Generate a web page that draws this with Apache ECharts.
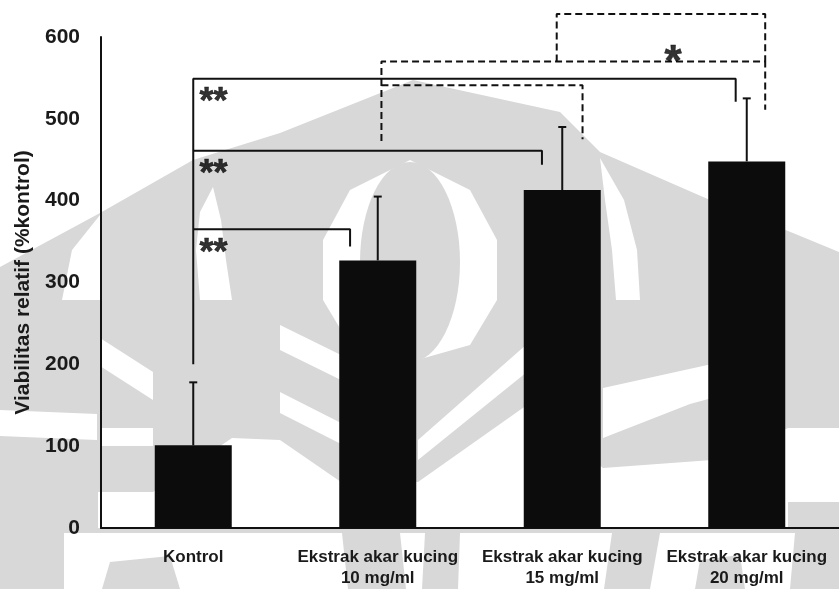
<!DOCTYPE html>
<html>
<head>
<meta charset="utf-8">
<script src="https://cdn.jsdelivr.net/npm/echarts@6/dist/echarts.min.js"></script>
<style>
html,body{margin:0;padding:0;background:#fff;}
#chart{width:839px;height:589px;}
</style>
</head>
<body>
<div id="chart"></div>
<script>
// ---- data ----
var categories = ['Kontrol', 'Ekstrak akar kucing\n10 mg/ml', 'Ekstrak akar kucing\n15 mg/ml', 'Ekstrak akar kucing\n20 mg/ml'];
var means = [101, 327, 413, 448];
var errorTops = [178, 405, 490, 525];
var yTicks = [0, 100, 200, 300, 400, 500, 600];

// significance brackets: points in [category position, value]
var bracketSolidTop = [[0, 200], [0, 549], [2.94, 549], [2.94, 521]];
var bracketSolidMid = [[0, 461], [1.89, 461], [1.89, 444]];
var bracketSolidLow = [[0, 365], [0.85, 365], [0.85, 344]];
var bracketDashB = [[1.02, 473], [1.02, 570], [3.10, 570], [3.10, 511]];
var bracketDashA = [[1.02, 541], [2.11, 541], [2.11, 475]];
var bracketDashC = [[1.97, 570], [1.97, 628], [3.10, 628], [3.10, 570]];
var sigDouble = [
  {name: '**', value: [0.11, 529]},
  {name: '**', value: [0.11, 441]},
  {name: '**', value: [0.11, 344]}
];
var sigSingle = [
  {name: '*', value: [2.60, 578]}
];

var FONT = 'Liberation Sans, Arial, sans-serif';
var chart = echarts.init(document.getElementById('chart'), null, {renderer: 'canvas'});

function bracket(data, dashed) {
  return {
    type: 'line', xAxisIndex: 1, yAxisIndex: 0, data: data,
    symbol: 'none', clip: false, silent: true, z: 5,
    lineStyle: {color: '#111', width: 2, type: dashed ? [7, 4] : 'solid'}
  };
}
function sigLabels(data, size, dy) {
  return {
    type: 'scatter', xAxisIndex: 1, yAxisIndex: 0, data: data,
    symbolSize: 1, itemStyle: {color: 'rgba(0,0,0,0)'}, silent: true, clip: false, z: 6,
    label: {show: true, position: 'inside', formatter: '{b}', offset: [0, dy], color: '#000',
      textBorderColor: '#000', textBorderWidth: 0.6,
      fontSize: size, fontWeight: 'bold', fontFamily: FONT}
  };
}

// ---- faint background watermark (decorative, not data) ----
var WM_GREY = '#d8d8d8';
function wmPoly(pts, fill) {
  return {type: 'polygon', silent: true, shape: {points: pts}, style: {fill: fill}};
}
var watermark = [
  // dome silhouette
  wmPoly([[0, 267], [100, 213], [193, 160], [280, 133], [413, 80], [560, 112], [600, 152], [710, 200], [793, 233], [839, 252], [839, 589], [0, 589]], WM_GREY),
  // white petals / almond
  wmPoly([[62, 300], [72, 250], [100, 215], [100, 300]], '#fff'),
  wmPoly([[213, 187], [221, 220], [226, 260], [232, 300], [200, 300], [196, 250], [200, 212]], '#fff'),
  wmPoly([[600, 158], [624, 200], [637, 250], [640, 300], [616, 300], [612, 250], [605, 200]], '#fff'),
  wmPoly([[410, 160], [470, 190], [497, 240], [497, 300], [470, 345], [410, 362], [350, 345], [323, 300], [323, 240], [350, 190]], '#fff'),
  {type: 'circle', silent: true, x: 410, y: 262, scaleY: 2, shape: {cx: 0, cy: 0, r: 50}, style: {fill: WM_GREY}},
  // white feather stripes
  wmPoly([[0, 410], [97, 414], [97, 440], [0, 436]], '#fff'),
  wmPoly([[100, 338], [153, 372], [153, 400], [100, 366]], '#fff'),
  wmPoly([[100, 428], [153, 428], [153, 446], [100, 446]], '#fff'),
  wmPoly([[280, 325], [341, 355], [341, 380], [280, 350]], '#fff'),
  wmPoly([[280, 392], [341, 423], [341, 444], [280, 413]], '#fff'),
  wmPoly([[418, 440], [527, 344], [527, 372], [418, 460]], '#fff'),
  wmPoly([[603, 388], [712, 364], [712, 398], [690, 404], [603, 438]], '#fff'),
  // white band along the base
  wmPoly([[98, 492], [153, 492], [232, 438], [280, 440], [341, 482], [418, 482], [527, 405], [603, 468], [712, 460], [788, 428], [839, 428],
          [839, 502], [788, 502], [788, 528], [98, 528]], '#fff'),
  // strip below the axis: white with grey bands
  wmPoly([[64, 533], [839, 533], [839, 589], [64, 589]], '#fff'),
  wmPoly([[110, 562], [170, 556], [180, 589], [102, 589]], WM_GREY),
  wmPoly([[342, 533], [400, 533], [406, 589], [348, 589]], WM_GREY),
  wmPoly([[425, 533], [460, 533], [458, 589], [422, 589]], WM_GREY),
  wmPoly([[612, 533], [660, 533], [650, 589], [604, 589]], WM_GREY),
  wmPoly([[700, 560], [740, 555], [745, 589], [695, 589]], WM_GREY),
  wmPoly([[795, 533], [839, 533], [839, 589], [790, 589]], WM_GREY)
];

var option = {
  animation: false,
  backgroundColor: '#ffffff',
  graphic: {elements: watermark, z: -10},
  grid: {left: 101, right: -4, top: 37, bottom: 57, containLabel: false},
  xAxis: [{
    type: 'category', data: categories,
    axisTick: {show: false},
    axisLine: {lineStyle: {color: '#111', width: 2}},
    axisLabel: {color: '#1a1a1a', fontSize: 17, fontWeight: 'bold', fontFamily: FONT, lineHeight: 21, margin: 19, interval: 0}
  }, {
    type: 'value', min: -0.5, max: 3.5, show: false
  }],
  yAxis: {
    type: 'value', min: 0, max: 600, interval: 100,
    name: 'Viabilitas relatif (%kontrol)', nameLocation: 'middle', nameGap: 67, nameRotate: 90,
    nameTextStyle: {color: '#1a1a1a', fontSize: 21, fontWeight: 'bold', fontFamily: FONT},
    axisLine: {show: true, onZero: false, lineStyle: {color: '#111', width: 2}},
    axisTick: {show: false},
    splitLine: {show: false},
    axisLabel: {color: '#1a1a1a', fontSize: 21, fontWeight: 'bold', fontFamily: FONT, margin: 21,
      formatter: function (v) { return yTicks.indexOf(v) >= 0 ? String(v) : ''; }}
  },
  series: [
    {
      type: 'bar', data: means, barWidth: 77,
      itemStyle: {color: '#0c0c0c'}, z: 2
    },
    {
      type: 'custom', z: 4,
      data: errorTops.map(function (t, i) { return [i, means[i], t]; }),
      renderItem: function (params, api) {
        var base = api.coord([api.value(0), api.value(1)]);
        var top = api.coord([api.value(0), api.value(2)]);
        return {
          type: 'group', children: [
            {type: 'line', shape: {x1: base[0], y1: base[1], x2: top[0], y2: top[1]}, style: {stroke: '#111', lineWidth: 2}},
            {type: 'line', shape: {x1: top[0] - 4, y1: top[1], x2: top[0] + 4, y2: top[1]}, style: {stroke: '#111', lineWidth: 2}}
          ]
        };
      }
    },
    bracket(bracketSolidTop, false),
    bracket(bracketSolidMid, false),
    bracket(bracketSolidLow, false),
    bracket(bracketDashB, true),
    bracket(bracketDashA, true),
    bracket(bracketDashC, true),
    sigLabels(sigDouble, 36, 8),
    sigLabels(sigSingle, 44, 9)
  ]
};
chart.setOption(option);
</script>
</body>
</html>
